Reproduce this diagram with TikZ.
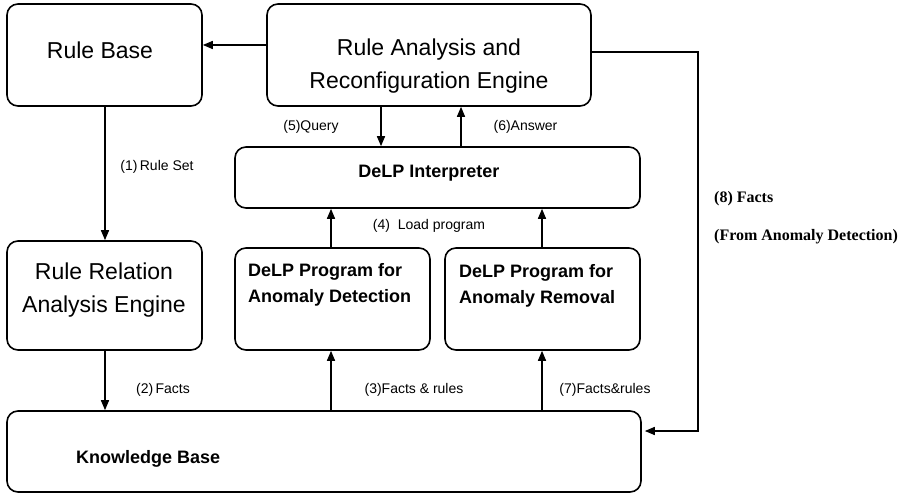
\documentclass[tikz,border=0pt]{standalone}
\usepackage{fontspec}
\setmainfont{Liberation Sans}
\newfontfamily\tnr{Liberation Serif}
\usetikzlibrary{arrows.meta}
\begin{document}
\begin{tikzpicture}[x=1pt,y=-1pt,
  box/.style={draw,line width=1.6pt,rounded corners=11pt,inner sep=0pt},
  arr/.style={line width=1.5pt,-{Triangle[length=10pt,width=8pt]}},
  big/.style={inner sep=0pt,align=center,font=\fontsize{23}{33}\selectfont},
  mid/.style={inner sep=0pt,font=\bfseries\fontsize{18}{26}\selectfont},
  lbl/.style={inner sep=0pt,font=\fontsize{14}{16}\selectfont},
  tlbl/.style={inner sep=0pt,anchor=west,font=\tnr\bfseries\fontsize{16}{18}\selectfont}]
\useasboundingbox (0,0) rectangle (905,494);
% boxes
\node[box,minimum width=195pt,minimum height=102pt] (rb) at (104.5,55) {};
\node[box,minimum width=324pt,minimum height=102pt] (ra) at (429,55) {};
\node[box,minimum width=405pt,minimum height=61pt] (di) at (437.5,177.5) {};
\node[box,minimum width=195pt,minimum height=109pt] (rr) at (104.5,295.5) {};
\node[box,minimum width=195pt,minimum height=102pt] (pd) at (332.5,299) {};
\node[box,minimum width=195pt,minimum height=102pt] (pr) at (542.5,299) {};
\node[box,minimum width=634pt,minimum height=81pt] (kb) at (324,451.5) {};
% box texts
\node[big] (trb) at (100,50) {Rule Base};
\node[big] (tra) at (429,66.5) {Rule Analysis and\\Reconfiguration Engine};
\node[big] (trr) at (104,290) {Rule Relation\\Analysis Engine};
\node[mid] (tdi) at (429,173) {DeLP Interpreter};
\node[mid,anchor=west,align=left] (tpd) at (248,285) {DeLP Program for\\Anomaly Detection};
\node[mid,anchor=west,align=left] (tpr) at (459,285.5) {DeLP Program for\\Anomaly Removal};
\node[mid,anchor=west] (tkb) at (76,459) {Knowledge Base};
% connectors
\draw[arr] (ra.west |- 0,45) -- (rb.east |- 0,45);
\draw[arr] (381,0 |- ra.south) -- (381,0 |- di.north);
\draw[arr] (461,0 |- di.north) -- (461,0 |- ra.south);
\draw[arr] (105,0 |- rb.south) -- (105,0 |- rr.north);
\draw[arr] (331,0 |- pd.north) -- (331,0 |- di.south);
\draw[arr] (542,0 |- pr.north) -- (542,0 |- di.south);
\draw[arr] (105,0 |- rr.south) -- (105,0 |- kb.north);
\draw[arr] (331,0 |- kb.north) -- (331,0 |- pd.south);
\draw[arr] (542,0 |- kb.north) -- (542,0 |- pr.south);
\coordinate (c1) at (698,52);
\coordinate (c2) at (698,431);
\draw[arr] (ra.east |- c1) -- (c1) -- (c2) -- ([xshift=3pt]kb.east |- c2);
% labels
\node[lbl] (l5) at (311,127) {(5)Query};
\node[lbl] (l6) at (525.5,127) {(6)Answer};
\node[lbl] (l1) at (157,167) {(1)\,Rule Set};
\node[lbl] (l4) at (429,226) {(4)\ \ Load program};
\node[lbl] (l2) at (163,390) {(2)\,Facts};
\node[lbl] (l3) at (414,390) {(3)Facts \& rules};
\node[lbl] (l7) at (605,390) {(7)Facts\&rules};
\node[tlbl] (l8) at (714,199) {(8) Facts};
\node[tlbl] (l8b) at (714,237) {(From Anomaly Detection)};
\end{tikzpicture}
\end{document}
